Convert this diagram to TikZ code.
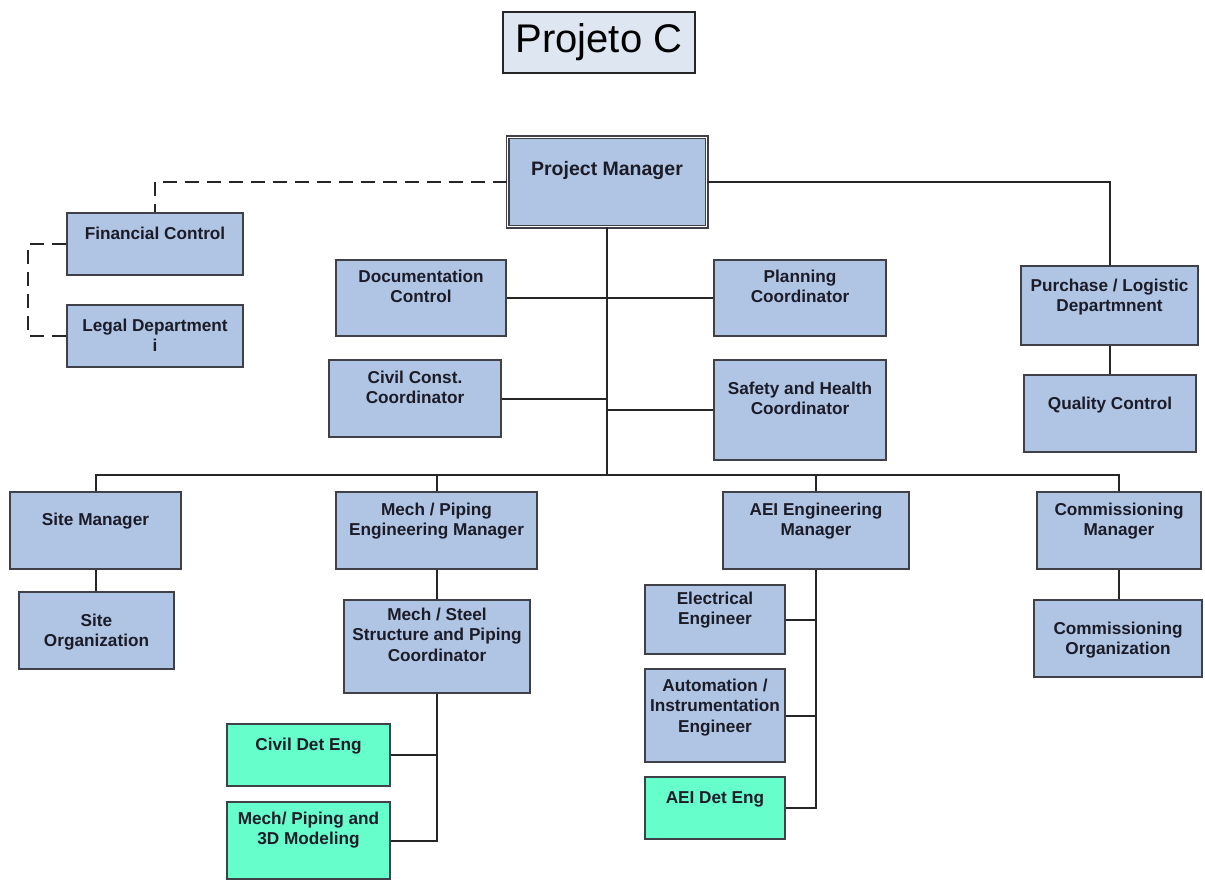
\documentclass[tikz,border=0pt]{standalone}
\usepackage{fontspec}
\setmainfont{Liberation Sans}
\definecolor{boxfill}{RGB}{176,196,228}
\definecolor{detfill}{RGB}{102,255,204}
\definecolor{titlefill}{RGB}{222,230,242}
\definecolor{edgecol}{RGB}{64,64,72}
\definecolor{txtcol}{RGB}{28,28,40}
\tikzset{
  box/.style={draw=edgecol, line width=1.2pt, fill=boxfill, inner sep=0pt, rectangle},
  det/.style={fill=detfill},
  lbl/.style={font=\bfseries\fontsize{17.2}{20.5}\selectfont, align=center, inner sep=0pt, text=txtcol},
  link/.style={draw=black!85, line width=2pt},
  dlink/.style={draw=black!85, line width=2pt, dash pattern=on 14pt off 8pt}
}
% \obox[style]{name}{x1}{y1}{x2}{y2}{first line y}{text}
\newcommand\obox[8][]{%
  \node[box,#1,minimum width={(#5)-(#3)},minimum height={(#6)-(#4)}] (#2)
    at ({((#3)+(#5))/2},{((#4)+(#6))/2}) {};
  \node[lbl,anchor=north] (#2-t) at ({((#3)+(#5))/2},{(#7)-6.5}) {#8};
}
\begin{document}
\begin{tikzpicture}[x=1pt,y=-1pt]
\useasboundingbox (0,0) rectangle (1205,880);

% title
\node[draw=black!85, line width=1.5pt, fill=titlefill, minimum width=192, minimum height=61,
      inner sep=0pt, font=\fontsize{40}{44}\selectfont] (title) at (599,42.5) {Projeto C};

% project manager (double frame)
\node[draw=edgecol, line width=1.2pt, double=white, double distance=1.6pt, fill=boxfill,
      minimum width=199, minimum height=89, inner sep=0pt] (pm) at (607,182) {};
\node[lbl, font=\bfseries\fontsize{19.5}{22}\selectfont, anchor=north] (pm-t) at (607,161) {Project Manager};

% staff boxes
\obox{fc}{67}{213}{243}{275}{233}{Financial Control}
\obox{ld}{67}{305}{243}{367}{325}{Legal Department\\i}
\obox{doc}{336}{260}{506}{336}{276}{Documentation\\Control}
\obox{plan}{714}{260}{886}{336}{276}{Planning\\Coordinator}
\obox{ccc}{329}{360}{501}{437}{377}{Civil Const.\\Coordinator}
\obox{shc}{714}{360}{886}{460}{388}{Safety and Health\\Coordinator}
\obox{pur}{1021}{266}{1198}{345}{285}{Purchase / Logistic\\Departmnent}
\obox{qc}{1024}{375}{1196}{452}{403}{Quality Control}

% line managers
\obox{sm}{10}{492}{181}{569}{519}{Site Manager}
\obox{so}{19}{592}{174}{669}{620}{Site\\Organization}
\obox{mm}{336}{492}{537}{569}{509}{Mech / Piping\\Engineering Manager}
\obox{msc}{344}{600}{530}{693}{614}{Mech / Steel\\Structure and Piping\\Coordinator}
\obox{aem}{723}{492}{909}{569}{509}{AEI Engineering\\Manager}
\obox{cm}{1037}{492}{1201}{569}{509}{Commissioning\\Manager}
\obox{co}{1034}{600}{1202}{677}{628}{Commissioning\\Organization}

% engineers
\obox{ee}{645}{585}{785}{654}{598}{Electrical\\Engineer}
\obox{ai}{645}{669}{785}{762}{685}{Automation /\\Instrumentation\\Engineer}
\obox[det]{adet}{645}{777}{785}{839}{798}{AEI Det Eng}
\obox[det]{cde}{227}{724}{390}{786}{744}{Civil Det Eng}
\obox[det]{m3d}{227}{802}{390}{879}{818}{Mech/ Piping and\\3D Modeling}

% connectors
\coordinate (bus) at (607,475);
\coordinate (dl) at (28,244);
\draw[dlink] (pm.west) -| (fc.north);
\draw[dlink] (fc.west) -- (dl) |- (ld.west);
\draw[link] (pm.east) -| (pur.north);
\draw[link] (pur.south) -- (pur.south |- qc.north);
\draw[link] (pm.south) -- (bus);
\draw[link] (doc.east) -- (plan.west);
\draw[link] (ccc.east) -- (ccc.east -| pm.south);
\draw[link] (shc.west) -- (shc.west -| pm.south);
\draw[link] (sm.north) -- (sm.north |- bus) -- (cm.north |- bus) -- (cm.north);
\draw[link] (mm.north) -- (mm.north |- bus);
\draw[link] (aem.north) -- (aem.north |- bus);
\draw[link] (sm.south) -- (sm.south |- so.north);
\draw[link] (mm.south) -- (mm.south |- msc.north);
\draw[link] (cm.south) -- (cm.south |- co.north);
\draw[link] (msc.south) |- (m3d.east);
\draw[link] (cde.east) -- (cde.east -| msc.south);
\draw[link] (aem.south) |- (adet.east);
\draw[link] (ee.east) -- (ee.east -| aem.south);
\draw[link] (ai.east) -- (ai.east -| aem.south);
\end{tikzpicture}
\end{document}
